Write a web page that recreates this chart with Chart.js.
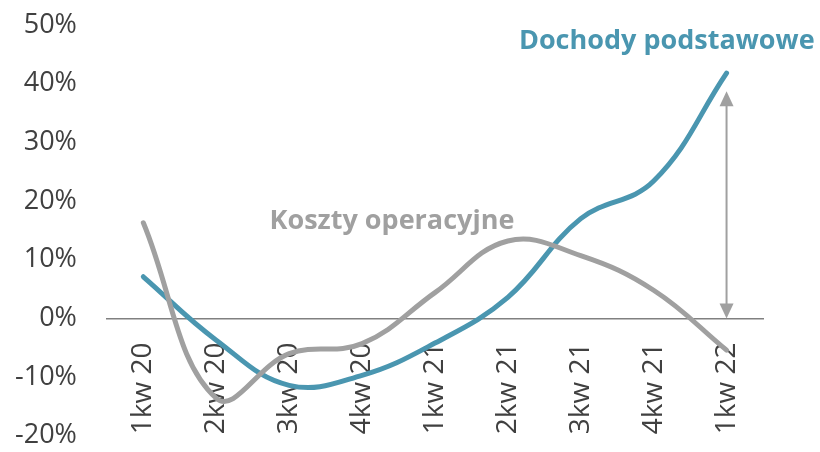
<!DOCTYPE html>
<html>
<head>
<meta charset="utf-8">
<script src="https://cdn.jsdelivr.net/npm/chart.js@4"></script>
<style>
  html, body { margin: 0; padding: 0; background: #fff; }
  #wrap { width: 820px; height: 452px; }
</style>
</head>
<body>
<div id="wrap"><canvas id="chart"></canvas></div>
<script>
const quarters = ['1kw 20', '2kw 20', '3kw 20', '4kw 20', '1kw 21', '2kw 21', '3kw 21', '4kw 21', '1kw 22'];
const dochody = [7.1, -3.7, -11.4, -9.7, -4.2, 3.6, 17.0, 23.4, 41.8];
const koszty = [16.3, -13.6, -6.0, -4.3, 4.4, 13.2, 10.7, 4.8, -5.4];

const BLUE = '#4a96b0';
const GREY = '#a0a0a0';
const FONT = '"Open Sans", sans-serif';

// arrow between the two series at the last quarter (value range)
const arrowFrom = 0;
const arrowTo = 38.7;

const annotations = {
    id: 'annotations',
    afterDatasetsDraw(chart) {
        const ctx = chart.ctx;
        const x = chart.scales.x;
        const y = chart.scales.y;

        // double arrow
        const ax = x.getPixelForValue(8);
        const top = y.getPixelForValue(arrowTo);
        const bottom = y.getPixelForValue(arrowFrom);
        ctx.save();
        ctx.strokeStyle = GREY;
        ctx.fillStyle = GREY;
        ctx.lineWidth = 2;
        ctx.beginPath();
        ctx.moveTo(ax, top + 10);
        ctx.lineTo(ax, bottom - 10);
        ctx.stroke();
        ctx.beginPath();
        ctx.moveTo(ax, top);
        ctx.lineTo(ax - 7, top + 15);
        ctx.lineTo(ax + 7, top + 15);
        ctx.closePath();
        ctx.fill();
        ctx.beginPath();
        ctx.moveTo(ax, bottom);
        ctx.lineTo(ax - 7, bottom - 15);
        ctx.lineTo(ax + 7, bottom - 15);
        ctx.closePath();
        ctx.fill();

        // series names
        ctx.font = 'bold 27px ' + FONT;
        ctx.textAlign = 'center';
        ctx.textBaseline = 'middle';
        ctx.fillStyle = BLUE;
        ctx.fillText('Dochody podstawowe', x.getPixelForValue(7.18), y.getPixelForValue(47.2));
        ctx.fillStyle = GREY;
        ctx.fillText('Koszty operacyjne', x.getPixelForValue(3.41), y.getPixelForValue(16.6));
        ctx.restore();
    }
};

new Chart(document.getElementById('chart'), {
    type: 'line',
    data: {
        labels: quarters,
        datasets: [
            {
                label: 'Koszty operacyjne',
                data: koszty,
                borderColor: GREY,
                borderWidth: 5,
                borderCapStyle: 'round',
                tension: 0.4,
                pointRadius: 0
            },
            {
                label: 'Dochody podstawowe',
                data: dochody,
                borderColor: BLUE,
                borderWidth: 5,
                borderCapStyle: 'round',
                tension: 0.4,
                pointRadius: 0
            }
        ]
    },
    options: {
        responsive: true,
        maintainAspectRatio: false,
        animation: false,
        layout: { padding: { top: 25, right: 57, bottom: 0, left: 15 } },
        plugins: {
            legend: { display: false },
            tooltip: { enabled: false }
        },
        scales: {
            x: {
                position: { y: 0 },
                offset: true,
                grid: { display: false, drawTicks: false },
                border: { display: true, color: '#808080', width: 1.5 },
                ticks: {
                    autoSkip: false,
                    minRotation: 90,
                    maxRotation: 90,
                    padding: 24,
                    color: '#404040',
                    font: { family: FONT, size: 28 }
                },
                afterFit: scale => { scale.height = 0; }
            },
            y: {
                min: -20,
                max: 50,
                // tick marks are hidden, their length only makes the gap beside the labels
                grid: { display: false, drawTicks: true, tickLength: 30 },
                border: { display: false },
                ticks: {
                    stepSize: 10,
                    padding: 0,
                    color: '#404040',
                    font: { family: FONT, size: 27 },
                    callback: v => v + '%'
                }
            }
        }
    },
    plugins: [annotations]
});
</script>
</body>
</html>
